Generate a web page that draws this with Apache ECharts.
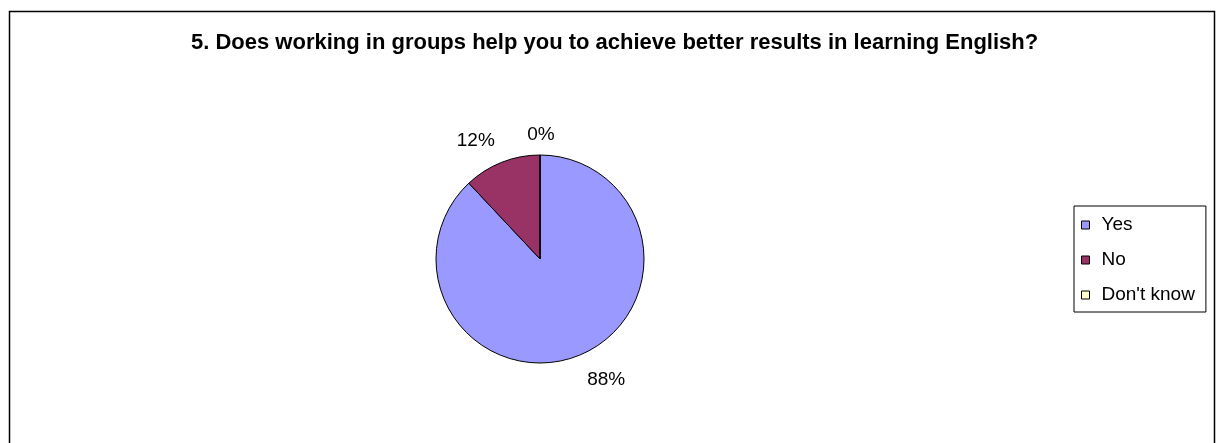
<!DOCTYPE html>
<html>
<head>
<meta charset="utf-8">
<script src="https://cdn.jsdelivr.net/npm/echarts@6/dist/echarts.min.js"></script>
<style>
html,body{margin:0;padding:0;background:#fff;}
#chart{width:1221px;height:443px;}
</style>
</head>
<body>
<div id="chart"></div>
<script>
const titleText = "5. Does working in groups help you to achieve better results in learning English?";
const categories = ["Yes", "No", "Don't know"];
const values = [88, 12, 0];
const colors = ["#9999FF", "#993366", "#FFFFCC"];

const FONT = "Arial, 'Liberation Sans', sans-serif";
const CX = 540, CY = 259;
const chart = echarts.init(document.getElementById('chart'));
chart.setOption({
  backgroundColor: '#ffffff',
  animation: false,
  title: {
    text: titleText,
    left: 186,
    top: 27,
    textStyle: { fontFamily: FONT, fontSize: 22, fontWeight: 'bold', color: '#000' }
  },
  graphic: [{
    type: 'rect',
    shape: { x: 9.5, y: 11.5, width: 1205, height: 460 },
    style: { fill: 'none', stroke: '#000', lineWidth: 1.5 },
    silent: true
  }],
  legend: {
    orient: 'vertical',
    left: 1074,
    top: 206,
    padding: [8, 11, 6, 7],
    itemGap: 13,
    itemWidth: 8,
    itemHeight: 8,
    icon: 'rect',
    borderColor: '#000',
    borderWidth: 1,
    backgroundColor: '#fff',
    itemStyle: { borderColor: '#000', borderWidth: 1 },
    textStyle: { fontFamily: FONT, fontSize: 19, lineHeight: 22, color: '#000', padding: [0, 0, 0, 7] },
    data: categories
  },
  series: [{
    type: 'pie',
    center: [CX, CY],
    radius: 104,
    startAngle: 90,
    clockwise: true,
    avoidLabelOverlap: false,
    stillShowZeroSum: true,
    itemStyle: { borderColor: '#000', borderWidth: 1 },
    label: {
      show: true,
      position: 'outside',
      formatter: p => p.value + '%',
      fontFamily: FONT, fontSize: 19, color: '#000'
    },
    labelLine: { show: false, length: 16, length2: 0 },
    labelLayout: function (p) {
      const r = p.labelRect;
      const midY = r.y + r.height / 2;
      const up = midY < CY;
      const out = { verticalAlign: up ? 'bottom' : 'top' };
      if (values[p.dataIndex] === 0) { out.align = 'center'; out.dx = 6; out.dy = 5; }
      else if (up) { out.dx = 4; out.dy = 3; }
      else { out.dx = -2; }
      return out;
    },
    data: categories.map((c, i) => ({ name: c, value: values[i], itemStyle: { color: colors[i] } }))
  }]
});
</script>
</body>
</html>
